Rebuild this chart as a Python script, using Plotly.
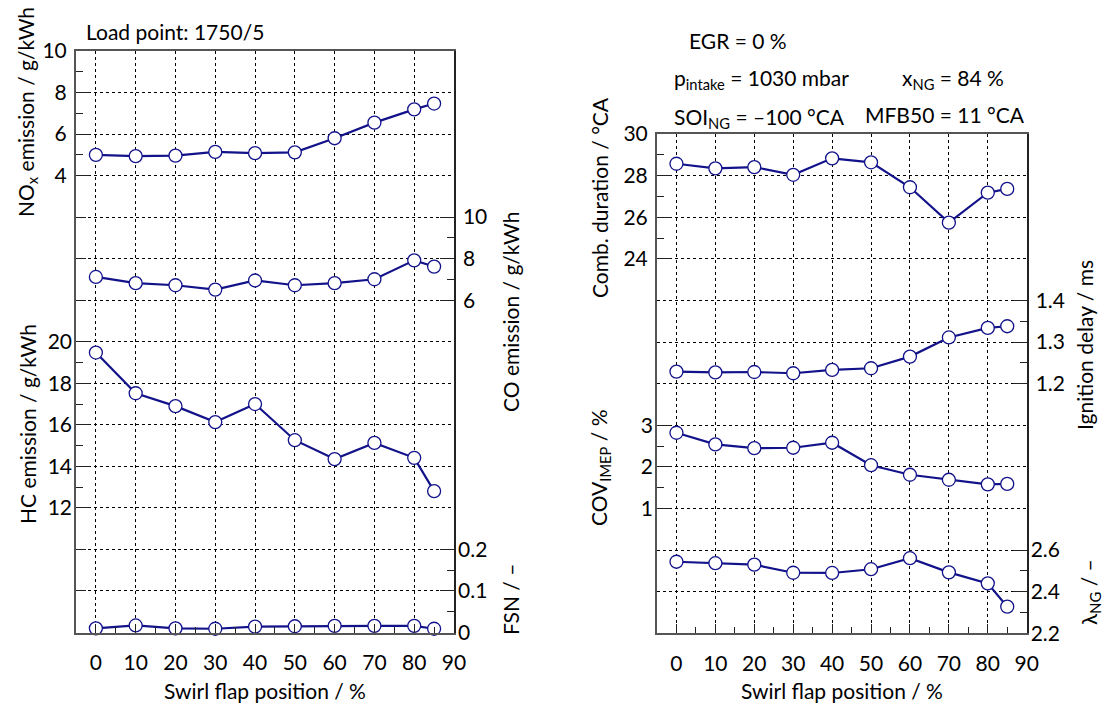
import plotly.graph_objects as go

# ---------------- data ----------------
swirl = [0, 10, 20, 30, 40, 50, 60, 70, 80, 85]
nox = [5.00, 4.94, 4.96, 5.14, 5.08, 5.12, 5.80, 6.55, 7.19, 7.47]
co = [7.12, 6.82, 6.72, 6.51, 6.95, 6.72, 6.82, 7.01, 7.92, 7.62]
hc = [19.48, 17.52, 16.90, 16.13, 17.00, 15.26, 14.35, 15.13, 14.41, 12.81]
fsn = [0.010, 0.017, 0.010, 0.009, 0.014, 0.015, 0.016, 0.016, 0.016, 0.009]

comb_dur = [28.57, 28.35, 28.41, 28.04, 28.83, 28.64, 27.44, 25.74, 27.18, 27.36]
ign_delay = [1.229, 1.227, 1.228, 1.225, 1.233, 1.237, 1.265, 1.311, 1.334, 1.338]
cov_imep = [2.82, 2.54, 2.45, 2.46, 2.58, 2.04, 1.81, 1.69, 1.58, 1.59]
lambda_ng = [2.544, 2.537, 2.530, 2.491, 2.490, 2.508, 2.561, 2.493, 2.440, 2.328]

x_ticks = [0, 10, 20, 30, 40, 50, 60, 70, 80, 90]
x_minor = [5, 15, 25, 35, 45, 55, 65, 75, 85]

# ---------------- layout helpers ----------------
W, H = 1114, 706
FONT = "Lato"
FS = 21
NAVY = "#12128a"
AXC = "#555555"


def px_x(p):
    return p / W


def px_y(p):
    return 1 - p / H


left_dom_x = [px_x(76), px_x(454)]
right_dom_x = [px_x(657), px_x(1026.7)]
left_dom_y = [px_y(632.5), px_y(51)]
right_dom_y = [px_y(633.3), px_y(134)]

fig = go.Figure()


def add_series(x, y, xa, ya):
    fig.add_trace(go.Scatter(
        x=x, y=y, xaxis=xa, yaxis=ya, mode="lines+markers",
        line=dict(color=NAVY, width=2.2),
        marker=dict(symbol="circle", size=13, color="white",
                    line=dict(color=NAVY, width=1.3)),
        showlegend=False, cliponaxis=False,
    ))


# grid-only traces (invisible) so grid axes are drawn
fig.add_trace(go.Scatter(x=[None], y=[None], xaxis="x", yaxis="y5", showlegend=False))
fig.add_trace(go.Scatter(x=[None], y=[None], xaxis="x2", yaxis="y10", showlegend=False))

add_series(swirl, nox, "x", "y")
add_series(swirl, co, "x", "y2")
add_series(swirl, hc, "x", "y3")
add_series(swirl, fsn, "x", "y4")
add_series(swirl, comb_dur, "x2", "y6")
add_series(swirl, ign_delay, "x2", "y7")
add_series(swirl, cov_imep, "x2", "y8")
add_series(swirl, lambda_ng, "x2", "y9")

tickfont = dict(family=FONT, size=FS, color="black")


def xaxis(domain, anchor):
    return dict(
        domain=domain, anchor=anchor, range=[-5, 90],
        tickmode="array", tickvals=x_ticks, ticks="inside", ticklen=9,
        tickwidth=1.3, tickcolor="#222",
        minor=dict(tickmode="array", tickvals=x_minor, ticks="inside",
                   ticklen=6, tickwidth=1.3, tickcolor="#222", showgrid=False),
        showgrid=True, gridcolor="black", griddash="dot", gridwidth=1,
        showline=True, linecolor=AXC, linewidth=2, mirror=True,
        zeroline=False, tickfont=tickfont, ticklabelstandoff=10,
        automargin=False,
    )


def yaxis(domain, rng, tv, mv, side, overlay=None, line=True, lw=2, lc=AXC):
    d = dict(
        domain=domain, range=rng, side=side, anchor="x" if overlay in (None, "y") else "x2",
        tickmode="array", tickvals=tv, ticks="inside", ticklen=14,
        tickwidth=1.3, tickcolor="#222",
        minor=dict(tickmode="array", tickvals=mv, ticks="inside",
                   ticklen=7, tickwidth=1.3, tickcolor="#222", showgrid=False),
        showgrid=False, zeroline=False, showline=line, linecolor=lc,
        linewidth=lw, tickfont=tickfont, ticklabelstandoff=3,
        automargin=False,
    )
    if overlay:
        d["overlaying"] = overlay
    return d


layout = dict(
    width=W, height=H, autosize=False,
    margin=dict(l=0, r=0, t=0, b=0, pad=0, autoexpand=False),
    plot_bgcolor="white", paper_bgcolor="white",
    font=dict(family=FONT, size=FS, color="black"),
    xaxis=xaxis(left_dom_x, "y"),
    xaxis2=xaxis(right_dom_x, "y6"),
)

# left panel
layout["yaxis"] = yaxis(left_dom_y, [-18, 10], [4, 6, 8, 10], [5, 7, 9], "left")
layout["yaxis2"] = yaxis(left_dom_y, [-10, 18], [6, 8, 10], [7, 9], "right", "y", lw=1.5, lc="#222")
layout["yaxis3"] = yaxis(left_dom_y, [6, 34], [12, 14, 16, 18, 20], [13, 15, 17, 19], "left", "y", line=False)
layout["yaxis4"] = yaxis(left_dom_y, [0, 1.4], [0, 0.1, 0.2], [0.05, 0.15], "right", "y", line=False)
layout["yaxis4"]["ticktext"] = ["0", "0.1", "0.2"]
layout["yaxis5"] = dict(
    domain=left_dom_y, range=[0, 14], overlaying="y", anchor="x", side="left",
    tickmode="linear", tick0=0, dtick=1, showticklabels=False,
    ticks="inside", ticklen=10, tickwidth=1.3, tickcolor="#222",
    showgrid=True, gridcolor="black", griddash="dot", gridwidth=1,
    zeroline=False, showline=False, automargin=False,
)

# right panel
layout["yaxis6"] = yaxis(right_dom_y, [6, 30], [24, 26, 28, 30], [25, 27, 29], "left")
layout["yaxis6"]["anchor"] = "x2"
layout["yaxis7"] = yaxis(right_dom_y, [0.6, 1.8], [1.2, 1.3, 1.4], [1.25, 1.35], "right", "y6", lw=1.5, lc="#222")
layout["yaxis8"] = yaxis(right_dom_y, [-2, 10], [1, 2, 3], [1.5, 2.5], "left", "y6", line=False)
layout["yaxis9"] = yaxis(right_dom_y, [2.2, 4.6], [2.2, 2.4, 2.6], [2.3, 2.5], "right", "y6", line=False)
layout["yaxis10"] = dict(
    domain=right_dom_y, range=[0, 12], overlaying="y6", anchor="x2", side="left",
    tickmode="linear", tick0=0, dtick=1, showticklabels=False, ticks="",
    showgrid=True, gridcolor="black", griddash="dot", gridwidth=1,
    zeroline=False, showline=False, automargin=False,
)

fig.update_layout(**layout)


def ann(text, x, y, angle=0, xanchor="center", yanchor="middle"):
    fig.add_annotation(
        text=text, x=px_x(x), y=px_y(y), xref="paper", yref="paper",
        showarrow=False, textangle=angle, xanchor=xanchor, yanchor=yanchor,
        font=dict(family=FONT, size=FS, color="black"),
    )


# axis titles
ann("NO<sub>x</sub> emission / g/kWh", 27, 112, -90)
ann("HC emission / g/kWh", 27, 424, -90)
ann("CO emission / g/kWh", 510, 312, -90)
ann("FSN / \u2013", 510, 600, -90)
ann("Comb. duration / \u00b0CA", 600, 198, -90)
ann("COV<sub>IMEP</sub> / %", 600, 468, -90)
ann("Ignition delay / ms", 1084, 345, -90)
ann("\u03bb<sub>NG</sub> / \u2013", 1090, 592, -90)
ann("Swirl flap position / %", 265, 690)
ann("Swirl flap position / %", 842, 690)

# info text
ann("Load point: 1750/5", 84, 31, xanchor="left")
ann("EGR = 0 %", 687, 40, xanchor="left")
ann("p<sub>intake</sub> = 1030 mbar", 672, 79, xanchor="left")
ann("x<sub>NG</sub> = 84 %", 900, 79, xanchor="left")
ann("SOI<sub>NG</sub> = \u2013100 \u00b0CA", 672, 118, xanchor="left")
ann("MFB50 = 11 \u00b0CA", 863, 115, xanchor="left")

fig.write_html("out.html")
